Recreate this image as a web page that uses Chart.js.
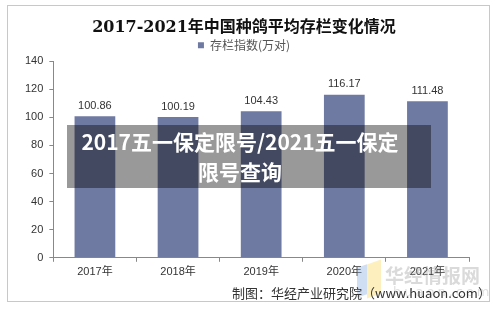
<!DOCTYPE html>
<html><head><meta charset="utf-8">
<script src="https://cdn.jsdelivr.net/npm/chart.js@4.4.0/dist/chart.umd.min.js"></script>
<style>
html,body{margin:0;padding:0;background:#fff;}
#wrap{position:relative;width:500px;height:314px;overflow:hidden;}
#frame{position:absolute;left:7px;top:5px;width:483px;height:297px;border:1px solid #c8c8c8;box-sizing:border-box;}
canvas{position:absolute;left:0;top:0;}
#wm{position:absolute;left:357px;top:262px;width:130px;height:40px;pointer-events:none;}
#wm .b1{position:absolute;left:0;top:4px;width:10px;height:30px;background:rgba(120,160,220,0.35);transform:skewY(-20deg);}
#wm .b2{position:absolute;left:10px;top:0;width:14px;height:34px;background:rgba(250,220,110,0.45);transform:skewY(-20deg);}
#wm .t1{position:absolute;left:28px;top:-1px;font:bold 19px "Noto Sans CJK SC";color:rgba(150,150,150,0.35);white-space:nowrap;}
#wm .t2{position:absolute;left:36px;top:22px;font:13px "DejaVu Sans";color:rgba(150,150,150,0.3);letter-spacing:3px;white-space:nowrap;}
#foot{position:absolute;left:232px;top:283px;font:13px "Noto Sans CJK SC","Liberation Sans";color:#333;white-space:nowrap;}
#ov{position:absolute;left:67px;top:125px;width:364px;height:63px;background:rgba(0,0,0,0.4);}
#ovt{position:absolute;left:40px;top:126px;width:400px;text-align:center;font:bold 21px/30px "Noto Sans CJK SC";color:#fff;white-space:nowrap;}
</style></head>
<body><div id="wrap">
<div id="frame"></div>
<canvas id="c" width="500" height="314"></canvas>
<div id="wm"><div class="b1"></div><div class="b2"></div><div class="t1">华经情报网</div><div class="t2">huaon.com</div></div>
<div id="foot">制图：华经产业研究院（www.huaon.com）</div>
<div id="ov"></div>
<div id="ovt">2017五一保定限号/2021五一保定<br>限号查询</div>
</div>
<script>
const categories = ["2017年","2018年","2019年","2020年","2021年"];
const values = [100.86, 100.19, 104.43, 116.17, 111.48];
const seriesName = "存栏指数(万对)";
const chartTitle = "2017-2021年中国种鸽平均存栏变化情况";

const labelPlugin = {
  id:'vlabels',
  afterDatasetsDraw(chart){
    const ctx = chart.ctx;
    const meta = chart.getDatasetMeta(0);
    ctx.save();
    ctx.font = '11px "Liberation Sans", Arial';
    ctx.fillStyle = '#333';
    ctx.textAlign = 'center';
    ctx.textBaseline = 'bottom';
    meta.data.forEach((bar,i)=>{
      ctx.fillText(values[i].toFixed(2), bar.x, bar.y - 5);
    });
    ctx.restore();
  }
};

new Chart(document.getElementById('c'), {
  type:'bar',
  data:{labels:categories, datasets:[{label:seriesName, data:values, backgroundColor:'#6f7aa2', categoryPercentage:1, barPercentage:0.49}]},
  options:{
    responsive:false, animation:false,
    layout:{padding:{left:19,right:31,top:10,bottom:31}},
    plugins:{
      title:{display:true,text:chartTitle,color:'#111',font:{family:'"DejaVu Serif","Noto Sans CJK SC"',size:16,weight:'bold'},padding:{top:8,bottom:0}},
      legend:{display:true,labels:{boxWidth:6,boxHeight:6,color:'#555',font:{family:'"Noto Sans CJK SC"',size:12},padding:2}},
      tooltip:{enabled:false}
    },
    scales:{
      y:{min:0,max:140,ticks:{stepSize:20,color:'#333',font:{family:'"Liberation Sans", Arial',size:11},padding:6},
         grid:{drawOnChartArea:false,drawTicks:true,tickLength:4,color:'#888'},border:{color:'#888'}},
      x:{ticks:{color:'#333',font:{family:'"Liberation Sans","Noto Sans CJK SC"',size:11},padding:4},
         grid:{drawOnChartArea:false,drawTicks:true,tickLength:4,color:'#888',offset:true},border:{color:'#888'}}
    }
  },
  plugins:[labelPlugin]
});
</script>
</body></html>
